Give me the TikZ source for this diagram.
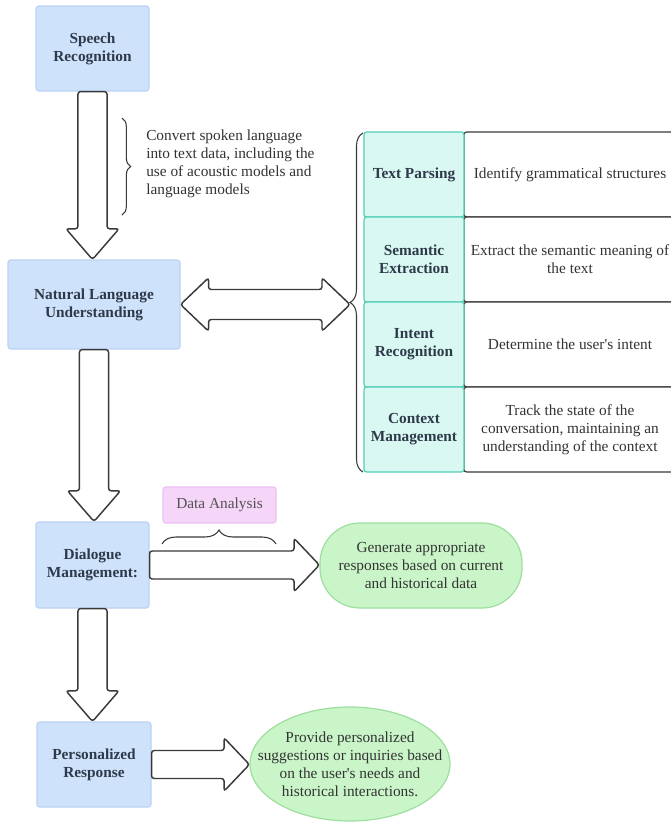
\documentclass[tikz,border=0pt]{standalone}
\usepackage{fontspec}
\setmainfont{Liberation Serif}
\usetikzlibrary{calc,shapes.geometric,decorations.pathreplacing}

\definecolor{boxblue}{RGB}{207,226,251}
\definecolor{boxblueline}{RGB}{188,210,244}
\definecolor{cellteal}{RGB}{218,248,242}
\definecolor{cellline}{RGB}{84,206,182}
\definecolor{tagpink}{RGB}{246,214,248}
\definecolor{tagline}{RGB}{236,192,242}
\definecolor{ovalgreen}{RGB}{201,245,201}
\definecolor{ovalline}{RGB}{158,222,158}
\definecolor{labeltext}{RGB}{46,58,74}
\definecolor{bodytext}{RGB}{51,51,51}
\definecolor{outline}{RGB}{58,58,58}

\newcommand{\diagfont}{\fontsize{11.5}{13.6}\selectfont}

\tikzset{
  stage/.style={draw=boxblueline, fill=boxblue, rounded corners=2pt, line width=0.8pt,
    text=labeltext, font=\diagfont\bfseries, align=center, inner sep=0.75pt},
  task/.style={draw=cellline, fill=cellteal, rounded corners=2pt, line width=0.9pt,
    minimum width=75pt, minimum height=63.75pt, text=labeltext, font=\diagfont\bfseries,
    align=center, inner sep=0.75pt},
  detail/.style={draw=outline, fill=white, rounded corners=2pt, line width=0.9pt,
    minimum width=159pt, minimum height=63.75pt, text=bodytext, font=\diagfont,
    align=center, inner sep=0.75pt},
  tag/.style={draw=tagline, fill=tagpink, rounded corners=2pt, line width=0.8pt,
    minimum width=84.75pt, minimum height=27pt, text=bodytext!85, font=\diagfont, inner sep=0.75pt},
  oval/.style={draw=ovalline, fill=ovalgreen, line width=0.9pt, text=bodytext,
    font=\diagfont, align=center},
  note/.style={text=bodytext, font=\diagfont, align=left, inner sep=0pt},
  curly/.style={draw=outline, line width=0.8pt, decorate},
  blockdown/.style={draw=outline, fill=white, line width=1.1pt, rounded corners=2pt,
    to path={let \p1=(\tikztostart), \p2=(\tikztotarget) in
      (\x1-10.9pt,\y1) -- (\x1-10.9pt,\y2+23pt) -- (\x1-19.9pt,\y2+23pt) -- (\x1,\y2)
      -- (\x1+19.9pt,\y2+23pt) -- (\x1+10.9pt,\y2+23pt) -- (\x1+10.9pt,\y1) -- cycle}},
  blockright/.style={draw=outline, fill=white, line width=1.1pt, rounded corners=2pt,
    to path={let \p1=(\tikztostart), \p2=(\tikztotarget) in
      (\x1,\y1+10.5pt) -- (\x2-19pt,\y1+10.5pt) -- (\x2-19pt,\y1+20pt) -- (\x2,\y1)
      -- (\x2-19pt,\y1-20pt) -- (\x2-19pt,\y1-10.5pt) -- (\x1,\y1-10.5pt) -- cycle}},
  blockboth/.style={draw=outline, fill=white, line width=1.1pt, rounded corners=2pt,
    to path={let \p1=(\tikztostart), \p2=(\tikztotarget) in
      (\x1,\y1) -- (\x1+21pt,\y1+20pt) -- (\x1+21pt,\y1+11.25pt) -- (\x2-21pt,\y1+11.25pt)
      -- (\x2-21pt,\y1+20pt) -- (\x2,\y1) -- (\x2-21pt,\y1-20pt) -- (\x2-21pt,\y1-11.25pt)
      -- (\x1+21pt,\y1-11.25pt) -- (\x1+21pt,\y1-20pt) -- cycle}}
}

\begin{document}
\begin{tikzpicture}[x=0.75pt,y=-0.75pt]
\useasboundingbox (0,0) rectangle (671,822);
\fill[white] (0,0) rectangle (671,822);
\clip (0,0) rectangle (671,822);

% Stage Nodes
\node[stage, minimum width=84.75pt, minimum height=63.75pt] (sr) at (92.5,48.5) {Speech\\Recognition};
\node[stage, minimum width=129pt, minimum height=66.75pt] (nlu) at (94,304.5) {Natural Language\\Understanding};
\node[stage, minimum width=84.75pt, minimum height=64.5pt] (dm) at (92.5,565) {Dialogue\\Management:};
\node[stage, minimum width=85.5pt, minimum height=63.75pt] (pr) at (94,764.5) {Personalized\\Response};

% Text Node
\node[note, anchor=west] (conv) at (146,164) {Convert spoken language\\into text data, including the\\use of acoustic models and\\language models};
%Brace
\draw[curly, decoration={brace, amplitude=6.5pt}] (122,118) -- (122,215);

% Table Cells
\node[detail] (tpd) at (570,174.5) {Identify grammatical structures};
\node[detail] (sed) at (570,259.5) {Extract the semantic meaning of\\the text};
\node[detail] (ird) at (570,344.5) {Determine the user\textquotesingle s intent};
\node[detail] (cmd) at (570,429.5) {Track the state of the\\conversation, maintaining an\\understanding of the context};
\node[task] (tp) at (414,174.5) {Text Parsing};
\node[task] (se) at (414,259.5) {Semantic\\Extraction};
\node[task] (ir) at (414,344.5) {Intent\\Recognition};
\node[task] (cm) at (414,429.5) {Context\\Management};
%Brace
\draw[curly, decoration={brace, amplitude=9.75pt}] (363,472) -- (363,133);
\coordinate (bt) at (350,302.5);

% Data Analysis Tag
\node[tag] (da) at (219.5,505) {Data Analysis};
\draw[curly, decoration={brace, amplitude=10.5pt}] (162,544) -- (276,544);

% Result Ovals
\node[oval, rounded corners=30pt, minimum width=151.5pt, minimum height=63.75pt, inner sep=0.75pt] (gen) at (421,565.5) {Generate appropriate\\responses based on current\\and historical data};
\node[oval, ellipse, minimum width=150pt, minimum height=85.5pt, inner xsep=-20pt, inner ysep=0pt] (prov) at (350,764) {Provide personalized\\suggestions or inquiries based\\on the user\textquotesingle s needs and\\historical interactions.};

%Block Arrows
\draw[blockdown] (sr.south) to (nlu.north);
\draw[blockdown] (nlu.south) to (dm.north);
\draw[blockdown] (dm.south) to (pr.north);
\draw[blockboth] (nlu.east) to (bt);
\draw[blockright] (dm.east) to (gen.west);
\draw[blockright] (pr.east) to (prov.west);

\end{tikzpicture}
\end{document}
